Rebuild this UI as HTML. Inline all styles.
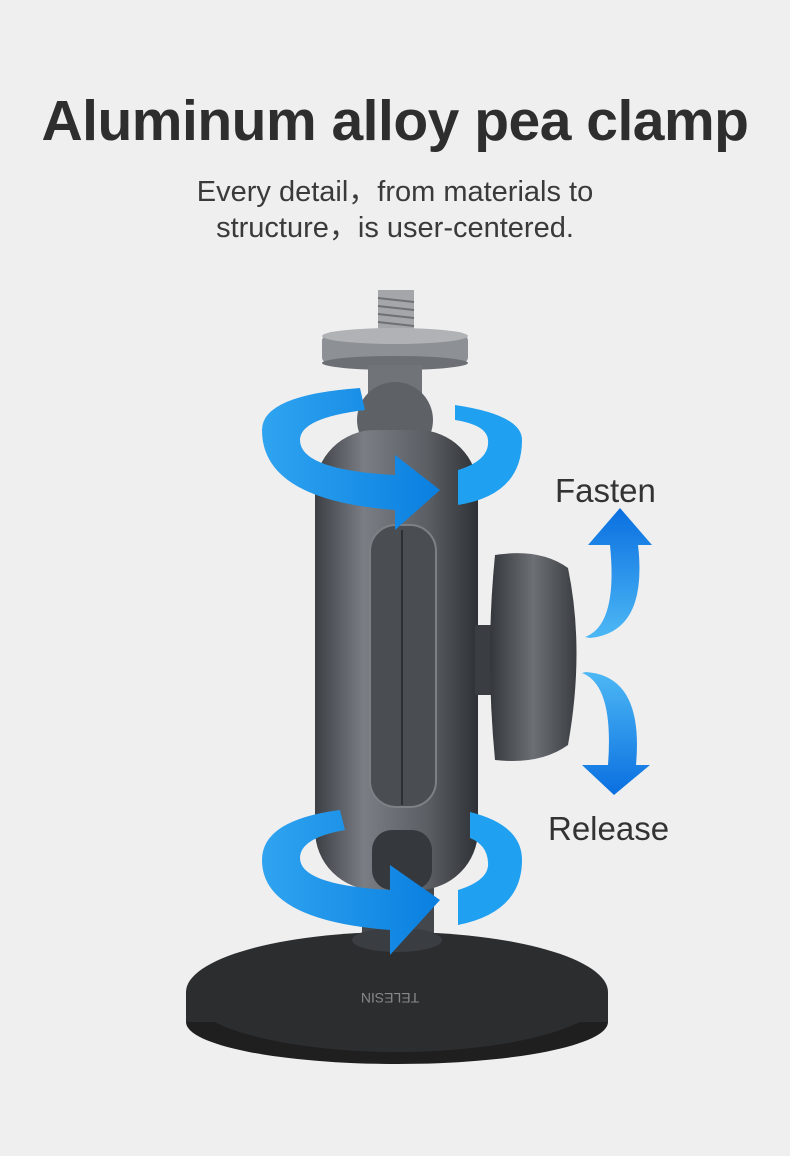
<!DOCTYPE html>
<html><head><meta charset="utf-8"><style>
html,body{margin:0;padding:0;background:#efefef;}
body{width:790px;height:1156px;overflow:hidden;position:relative;font-family:"Liberation Sans",sans-serif;}
h1{position:absolute;top:88px;left:0;width:790px;text-align:center;margin:0;font-size:57px;font-weight:bold;color:#2e2e2e;letter-spacing:-0.5px;}
.sub{position:absolute;top:174px;left:0;width:790px;text-align:center;font-size:29px;line-height:36px;color:#3a3a3a;}
.lab{position:absolute;font-size:33px;color:#333;}
</style></head><body>
<h1>Aluminum alloy pea clamp</h1>
<div class="sub">Every detail，from materials to<br>structure，is user-centered.</div>
<svg width="790" height="1156" style="position:absolute;left:0;top:0">
<defs>
<linearGradient id="arm" x1="0" x2="1"><stop offset="0" stop-color="#3c4045"/><stop offset="0.3" stop-color="#7a7e84"/><stop offset="0.7" stop-color="#5a5e63"/><stop offset="1" stop-color="#2e3135"/></linearGradient>
<linearGradient id="knob" x1="0" x2="1"><stop offset="0" stop-color="#34373b"/><stop offset="0.5" stop-color="#6c7075"/><stop offset="1" stop-color="#3a3d41"/></linearGradient>
<linearGradient id="blue" x1="0" x2="1"><stop offset="0" stop-color="#2fa4f0"/><stop offset="1" stop-color="#0a7fe0"/></linearGradient>
<linearGradient id="bv" x1="0" y1="0" x2="0" y2="1"><stop offset="0" stop-color="#0a6fe0"/><stop offset="1" stop-color="#4db8f5"/></linearGradient>
<linearGradient id="bv2" x1="0" y1="0" x2="0" y2="1"><stop offset="0" stop-color="#4db8f5"/><stop offset="1" stop-color="#0a6fe0"/></linearGradient>
</defs>
<ellipse cx="397" cy="1022" rx="211" ry="42" fill="#1f1f20"/>
<ellipse cx="397" cy="992" rx="211" ry="60" fill="#2c2d2f"/>
<rect x="186" y="992" width="422" height="30" fill="#2c2d2f"/>
<text x="390" y="1003" font-size="14" fill="#888" text-anchor="middle" transform="rotate(180 390 998)">TELESIN</text>
<rect x="362" y="880" width="72" height="60" fill="#44484d"/>
<ellipse cx="397" cy="940" rx="45" ry="12" fill="#3a3d41"/>
<rect x="378" y="290" width="36" height="50" fill="#a4a6a9"/>
<g stroke="#6e7073" stroke-width="2"><line x1="378" y1="298" x2="414" y2="302"/><line x1="378" y1="306" x2="414" y2="310"/><line x1="378" y1="314" x2="414" y2="318"/><line x1="378" y1="322" x2="414" y2="326"/></g>
<rect x="322" y="335" width="146" height="28" rx="6" fill="#8d9094"/>
<ellipse cx="395" cy="336" rx="73" ry="8" fill="#b0b2b5"/>
<ellipse cx="395" cy="363" rx="73" ry="7" fill="#6c6f73"/>
<rect x="368" y="365" width="54" height="40" fill="#707479"/>
<circle cx="395" cy="420" r="38" fill="#5e6267"/>
<rect x="315" y="430" width="163" height="460" rx="60" fill="url(#arm)"/>
<rect x="370" y="525" width="66" height="282" rx="26" fill="#4a4e53" stroke="#7d8186" stroke-width="2"/>
<line x1="402" y1="530" x2="402" y2="805" stroke="#2c2f33" stroke-width="2"/>
<rect x="372" y="830" width="60" height="60" rx="20" fill="#35383c"/>
<rect x="475" y="625" width="20" height="70" fill="#3a3d41"/>
<path d="M495 555 Q540 548 568 568 Q585 650 568 745 Q540 765 495 760 Q485 655 495 555Z" fill="url(#knob)"/>
<path d="M262 430 Q262 395 360 388 L365 410 Q300 418 300 440 Q300 470 395 475 L395 455 L440 490 L395 530 L395 510 Q262 500 262 430Z" fill="url(#blue)"/>
<path d="M455 405 Q522 415 522 440 Q522 495 458 505 L458 470 Q490 460 488 440 Q487 425 455 420Z" fill="#1fa0f0"/>
<path d="M262 860 Q262 820 340 810 L345 830 Q300 838 300 858 Q300 885 390 890 L390 865 L440 900 L390 955 L390 930 Q262 920 262 860Z" fill="url(#blue)"/>
<path d="M470 812 Q522 825 522 860 Q522 912 458 925 L458 890 Q490 880 488 862 Q487 845 470 838Z" fill="#1fa0f0"/>
<path d="M585 637 Q618 625 610 545 L588 545 L620 508 L652 545 L638 545 Q648 632 590 638Z" fill="url(#bv)"/>
<path d="M582 673 Q614 685 608 765 L582 765 L614 795 L650 765 L636 765 Q644 676 586 672Z" fill="url(#bv2)"/>
</svg>
<div class="lab" style="left:555px;top:472px">Fasten</div>
<div class="lab" style="left:548px;top:810px">Release</div>
</body></html>
